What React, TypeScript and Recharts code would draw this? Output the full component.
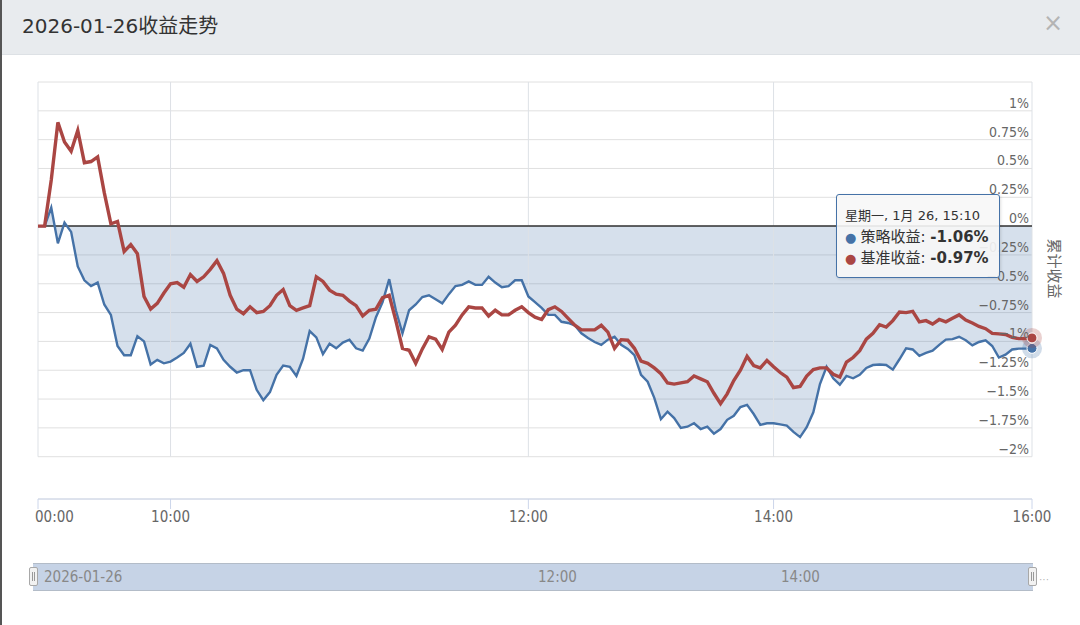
import React from "react";
import {
  Area,
  CartesianGrid,
  ComposedChart,
  Line,
  ReferenceLine,
  Tooltip,
  XAxis,
  YAxis,
} from "recharts";

const strategyReturns = [
  0, 0, 0.16, -0.15, 0.03, -0.05, -0.35, -0.47, -0.52, -0.49,
  -0.68, -0.77, -1.04, -1.12, -1.12, -0.955, -1.0, -1.2, -1.16, -1.19,
  -1.175, -1.14, -1.1, -1.02, -1.22, -1.21, -1.03, -1.06, -1.16, -1.22,
  -1.27, -1.25, -1.25, -1.42, -1.51, -1.44, -1.29, -1.21, -1.22, -1.3,
  -1.15, -0.91, -0.965, -1.11, -1.02, -1.06, -1.01, -0.985, -1.06, -1.08,
  -0.975, -0.79, -0.66, -0.46, -0.73, -0.93, -0.73, -0.68, -0.615, -0.6,
  -0.635, -0.67, -0.59, -0.52, -0.51, -0.48, -0.51, -0.51, -0.44, -0.49,
  -0.53, -0.52, -0.47, -0.47, -0.61, -0.66, -0.71, -0.77, -0.77, -0.83,
  -0.84, -0.86, -0.93, -0.97, -1.005, -1.03, -0.985, -0.96, -1.03, -1.065,
  -1.12, -1.29, -1.35, -1.49, -1.675, -1.61, -1.665, -1.75, -1.74, -1.71,
  -1.76, -1.74, -1.8, -1.76, -1.68, -1.645, -1.57, -1.55, -1.63, -1.725,
  -1.71, -1.71, -1.72, -1.73, -1.785, -1.83, -1.745, -1.615, -1.37, -1.22,
  -1.32, -1.375, -1.3, -1.32, -1.29, -1.23, -1.205, -1.2, -1.205, -1.245,
  -1.155, -1.06, -1.07, -1.125, -1.1, -1.08, -1.03, -0.985, -0.98, -0.96,
  -0.99, -1.035, -1.005, -0.99, -1.04, -1.14, -1.115, -1.07, -1.063, -1.063,
  -1.06,
];

const benchmarkReturns = [
  0, 0, 0.4, 0.9, 0.73, 0.65, 0.83, 0.55, 0.56, 0.6,
  0.29, 0.02, 0.04, -0.22, -0.16, -0.24, -0.61, -0.72, -0.67, -0.58,
  -0.5, -0.49, -0.53, -0.42, -0.48, -0.44, -0.375, -0.3, -0.41, -0.6,
  -0.72, -0.76, -0.7, -0.75, -0.74, -0.69, -0.6, -0.55, -0.69, -0.73,
  -0.71, -0.69, -0.44, -0.48, -0.555, -0.59, -0.6, -0.65, -0.69, -0.78,
  -0.73, -0.72, -0.62, -0.6, -0.82, -1.06, -1.077, -1.19, -1.065, -0.96,
  -0.98, -1.07, -0.92, -0.86, -0.77, -0.7, -0.71, -0.71, -0.78, -0.73,
  -0.77, -0.77, -0.73, -0.7, -0.75, -0.79, -0.81, -0.725, -0.7, -0.74,
  -0.8, -0.86, -0.9, -0.9, -0.9, -0.86, -0.92, -1.06, -0.985, -0.99,
  -1.06, -1.17, -1.19, -1.23, -1.28, -1.36, -1.37, -1.36, -1.35, -1.3,
  -1.325, -1.35, -1.45, -1.54, -1.455, -1.34, -1.25, -1.13, -1.21, -1.23,
  -1.165, -1.22, -1.27, -1.31, -1.4, -1.39, -1.3, -1.245, -1.23, -1.23,
  -1.285, -1.31, -1.18, -1.14, -1.08, -0.98, -0.93, -0.855, -0.875, -0.82,
  -0.745, -0.75, -0.74, -0.83, -0.82, -0.85, -0.81, -0.83, -0.8, -0.77,
  -0.815, -0.84, -0.87, -0.89, -0.93, -0.935, -0.94, -0.965, -0.976, -0.976,
  -0.97,
];

const seriesNames = ["策略收益", "基准收益"];
const xTickIndex = [0, 20, 74, 111, 150];
const xTickLabels = ["00:00", "10:00", "12:00", "14:00", "16:00"];
const yTicks = [-2, -1.75, -1.5, -1.25, -1, -0.75, -0.5, -0.25, 0, 0.25, 0.5, 0.75, 1, 1.25];
const navigatorLabels = ["2026-01-26", "12:00", "14:00"];
const tooltipTitle = "星期一, 1月 26, 15:10";
const chartTitle = "2026-01-26收益走势";

const data = strategyReturns.map((v, i) => ({
  i,
  strategy: v,
  benchmark: benchmarkReturns[i],
}));

const BLUE = "#4572a7";
const RED = "#aa4643";
const AXIS_FONT = "'DejaVu Sans Condensed', 'DejaVu Sans', sans-serif";
const CJK_FONT = "'DejaVu Sans', 'Noto Sans CJK SC', sans-serif";

const pct = (v: number) => (v < 0 ? "\u2212" + String(-v) : String(v)) + "%";

const YTick = (props: any) => {
  const { x, y, payload } = props;
  if (payload.value === 1.25) return <g />;
  return (
    <text x={x - 3} y={y - 3} textAnchor="end" fill="#666" fontSize={14} fontFamily={AXIS_FONT}>
      {pct(payload.value)}
    </text>
  );
};

const XTick = (props: any) => {
  const { x, y, payload } = props;
  const first = payload.value === 0;
  return (
    <text
      x={first ? x - 3 : x}
      y={y}
      dy="0.71em"
      textAnchor={first ? "start" : "middle"}
      fill="#666"
      fontSize={15}
      fontFamily={AXIS_FONT}
    >
      {xTickLabels[xTickIndex.indexOf(payload.value)]}
    </text>
  );
};

const haloDot = (color: string) => (props: any) => (
  <g key={`halo-${color}`}>
    <circle cx={props.cx} cy={props.cy} r={10} fill={color} fillOpacity={0.25} />
    <circle cx={props.cx} cy={props.cy} r={5} fill={color} stroke="#fff" strokeWidth={1} />
  </g>
);

const TipBox = ({ active, payload }: any) => {
  if (!active || !payload || !payload.length) return null;
  const rows = payload.filter((p: any) => seriesNames.includes(p.name));
  return (
    <div
      style={{
        width: 164,
        height: 84,
        boxSizing: "border-box",
        padding: "11px 8px 0",
        background: "rgba(247,247,247,0.9)",
        border: `1px solid ${BLUE}`,
        borderRadius: 3,
        boxShadow: "1px 1px 3px rgba(0,0,0,0.12)",
        fontFamily: CJK_FONT,
        color: "#333",
        whiteSpace: "nowrap",
      }}
    >
      <div style={{ fontSize: 13, lineHeight: "19px", marginBottom: 2 }}>{tooltipTitle}</div>
      {rows.map((p: any) => (
        <div key={p.dataKey} style={{ fontSize: 15, lineHeight: "20px" }}>
          <span style={{ color: p.color, fontSize: 13 }}>● </span>
          {p.name}: <b>{Number(p.value).toFixed(2)}%</b>
        </div>
      ))}
    </div>
  );
};

export default function App() {
  return (
    <div
      style={{
        position: "fixed",
        left: 0,
        top: 0,
        width: 1080,
        height: 625,
        background: "#fff",
        overflow: "hidden",
      }}
    >
      <div
        style={{
          position: "absolute",
          left: 0,
          top: 0,
          width: 1080,
          height: 54,
          background: "#e8ebee",
          borderBottom: "1px solid #dde1e5",
        }}
      >
        <div
          style={{
            position: "absolute",
            left: 22,
            top: 12,
            fontSize: 20,
            lineHeight: "28px",
            color: "#333",
            fontFamily: CJK_FONT,
          }}
        >
          {chartTitle}
        </div>
        <div
          style={{
            position: "absolute",
            left: 1043,
            top: 8,
            fontSize: 24,
            lineHeight: "30px",
            color: "#b4b4b4",
            fontFamily: "'DejaVu Sans', sans-serif",
          }}
        >
          ×
        </div>
      </div>
      <div style={{ position: "absolute", left: 0, top: 0, width: 2, height: 625, background: "#555" }} />

      <div style={{ position: "absolute", left: 0, top: 0 }}>
        <ComposedChart
          width={1080}
          height={540}
          data={data}
          margin={{ top: 82, right: 6, left: 38, bottom: 11 }}
        >
          <CartesianGrid vertical={false} stroke="#e0e0e0" />
          {xTickIndex.map((t) => (
            <ReferenceLine
              key={`v-${t}`}
              segment={[
                { x: t, y: -2 },
                { x: t, y: 1.25 },
              ]}
              stroke="#dde1e6"
            />
          ))}
          <XAxis
            dataKey="i"
            type="number"
            domain={[0, 150]}
            ticks={xTickIndex}
            interval={0}
            height={30}
            axisLine={{ stroke: "#ccd6eb" }}
            tickLine={{ stroke: "#ccd6eb" }}
            tickSize={10}
            tickMargin={2}
            tick={<XTick />}
          />
          <YAxis
            orientation="right"
            type="number"
            domain={[-2.367, 1.25]}
            allowDataOverflow
            ticks={yTicks}
            interval={0}
            width={42}
            axisLine={false}
            tickLine={false}
            tickSize={0}
            tickMargin={0}
            tick={<YTick />}
            label={{
              value: "累计收益",
              angle: 90,
              position: "center",
              dy: -22,
              dx: 1,
              style: { fill: "#666", fontSize: 15, fontFamily: "'Noto Sans CJK SC', sans-serif" },
            }}
          />
          <Area
            type="linear"
            dataKey="strategy"
            name="area"
            baseValue={0}
            stroke="none"
            fill={BLUE}
            fillOpacity={0.22}
            tooltipType="none"
            activeDot={false}
            dot={false}
            isAnimationActive={false}
          />
          <ReferenceLine y={0} stroke="#333" strokeWidth={1.5} />
          <Line
            type="linear"
            dataKey="strategy"
            name={seriesNames[0]}
            stroke={BLUE}
            strokeWidth={2.4}
            dot={false}
            activeDot={haloDot(BLUE)}
            isAnimationActive={false}
          />
          <Line
            type="linear"
            dataKey="benchmark"
            name={seriesNames[1]}
            stroke={RED}
            strokeWidth={3.4}
            dot={false}
            activeDot={haloDot(RED)}
            isAnimationActive={false}
          />
          <Tooltip
            defaultIndex={150}
            position={{ x: 836, y: 194 }}
            cursor={false}
            content={<TipBox />}
            isAnimationActive={false}
          />
        </ComposedChart>
      </div>

      <div
        style={{
          position: "absolute",
          left: 33,
          top: 563,
          width: 1000,
          height: 26,
          background: "#c6d3e6",
          borderTop: "1px solid #b3bcc8",
          borderBottom: "1px solid #b3bcc8",
        }}
      >
        {navigatorLabels.map((t, k) => (
          <div
            key={t}
            style={{
              position: "absolute",
              left: [11, 505, 748][k],
              top: 4,
              fontSize: 15,
              lineHeight: "18px",
              color: "#888",
              fontFamily: AXIS_FONT,
            }}
          >
            {t}
          </div>
        ))}
      </div>
      {[29, 1028].map((l) => (
        <div
          key={l}
          style={{
            position: "absolute",
            left: l,
            top: 567,
            width: 7,
            height: 17,
            background: "#f2f2f2",
            border: "1px solid #a8a8a8",
            borderRadius: 2,
          }}
        >
          <div style={{ position: "absolute", left: 2, top: 4, width: 1, height: 9, background: "#999" }} />
          <div style={{ position: "absolute", left: 4, top: 4, width: 1, height: 9, background: "#999" }} />
        </div>
      ))}
      <div style={{ position: "absolute", left: 1039, top: 574, fontSize: 10, color: "#aaa" }}>···</div>
    </div>
  );
}
